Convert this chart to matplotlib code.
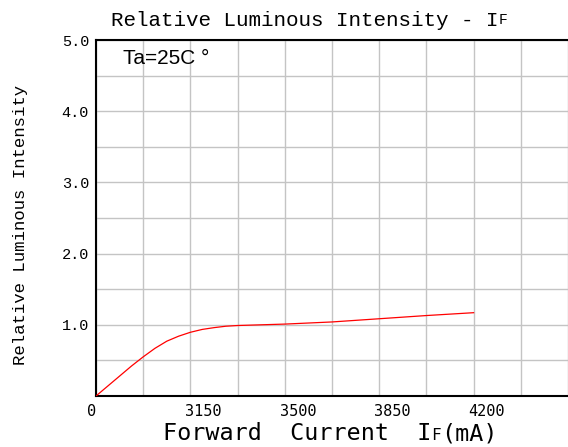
import numpy as np
import matplotlib.pyplot as plt
import matplotlib.transforms as mtransforms

# x is on an evenly spaced grid (one unit per vertical grid line)
curve_x = [0, 0.25, 0.5, 0.75, 1.0, 1.25, 1.5, 1.75, 2.0, 2.25, 2.5, 2.75, 3.0, 3.5, 4.0, 5.0, 6.0, 7.0, 8.0]
curve_y = [0, 0.14, 0.28, 0.42, 0.55, 0.67, 0.77, 0.84, 0.895, 0.935, 0.96, 0.98, 0.99, 1.0, 1.01, 1.04, 1.085, 1.13, 1.17]

xtick_pos = [0, 2, 4, 6, 8]
xtick_labels = ['0', '3150', '3500', '3850', '4200']
ytick_pos = [1.0, 2.0, 3.0, 4.0, 5.0]
ytick_labels = ['1.0', '2.0', '3.0', '4.0', '5.0']

fig = plt.figure(figsize=(5.68, 4.47), dpi=100)
ax = fig.add_axes([96 / 568, 51 / 447, 1 - 96 / 568, 356 / 447])

ax.plot(curve_x, curve_y, color='red', lw=0.9, zorder=3)

ax.set_xlim(0, 472 / 47.4)
ax.set_ylim(0, 5.0)
ax.set_yticks(np.arange(0, 5.01, 0.5))
ax.grid(True, color='#c4c4c4', lw=1.0)
ax.tick_params(length=0)

# labels only at selected positions
ax.set_xticks(np.arange(0, 11, 1))
ax.set_xticklabels([xtick_labels[xtick_pos.index(i)] if i in xtick_pos else '' for i in range(11)],
                   family='DejaVu Sans Mono', fontsize=11)
ax.set_yticklabels([ytick_labels[ytick_pos.index(v)] if v in ytick_pos else ''
                    for v in np.round(np.arange(0, 5.01, 0.5), 1)],
                   family='Liberation Mono', fontsize=11)
ax.tick_params(axis='x', pad=6)
ax.tick_params(axis='y', pad=5)

for lab in ax.get_xticklabels():
    dx = -4 if lab.get_text() == '0' else 13
    lab.set_transform(lab.get_transform() + mtransforms.ScaledTranslation(dx / 100, 0, fig.dpi_scale_trans))

for side in ['left', 'bottom', 'top']:
    ax.spines[side].set_linewidth(1.5)
    ax.spines[side].set_color('black')
ax.spines['right'].set_visible(False)

ax.text(0.57, 4.74, 'Ta=25C °', family='Liberation Sans', fontsize=15, va='center', ha='left')

# title with small-cap F
t = fig.text(111 / 568, 1 - 20 / 447, 'Relative Luminous Intensity - I',
             family='Liberation Mono', fontsize=15, va='center', ha='left')
ax.annotate('F', xy=(1, 0), xycoords=t, va='bottom', ha='left',
            family='Liberation Mono', fontsize=10.5, xytext=(0, 1.5), textcoords='offset points')

# x label
xl = fig.text(163 / 568, 1 - 434 / 447, 'Forward  Current  I',
              family='DejaVu Sans Mono', fontsize=16.8, va='center', ha='left')
xf = ax.annotate('F', xy=(1, 0), xycoords=xl, va='bottom', ha='left',
                 family='DejaVu Sans Mono', fontsize=11.5, xytext=(0, 1.5), textcoords='offset points')
ax.annotate('(mA)', xy=(1, 0), xycoords=xf, va='bottom', ha='left',
            family='DejaVu Sans Mono', fontsize=16.8, xytext=(0, -1.5), textcoords='offset points')

fig.text(21 / 568, 1 - 225 / 447, 'Relative Luminous Intensity', rotation=90,
         family='Liberation Mono', fontsize=12.5, va='center', ha='center')

fig.savefig('out.png', dpi=100)
